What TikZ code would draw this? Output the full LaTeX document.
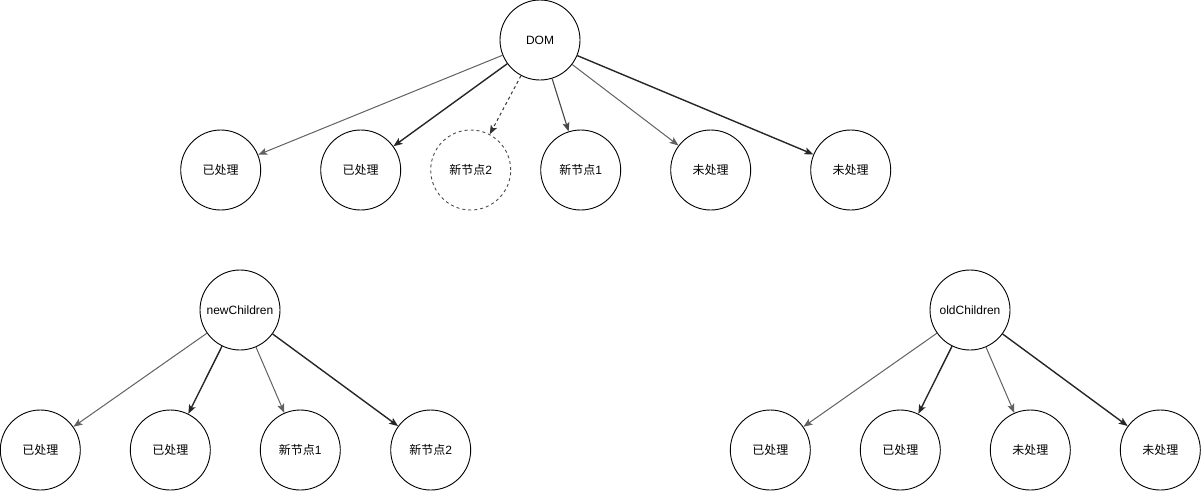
\documentclass[tikz,border=0pt]{standalone}
\usepackage{fontspec}
\setmainfont{Liberation Sans}
\newfontfamily\cjk{Noto Sans CJK SC}
\usetikzlibrary{arrows.meta}
\begin{document}
\begin{tikzpicture}[x=1pt,y=-1pt,
  every node/.style={font=\fontsize{12}{14}\selectfont},
  circ/.style={draw=black,line width=0.9pt,circle,minimum size=80pt,inner sep=0pt},
  dcirc/.style={circ,draw=black!70,dashed,dash pattern=on 3pt off 3pt},
  tip/.style={-{Stealth[length=9pt,width=7pt,inset=2pt]}},
  thinedge/.style={tip,draw=black!62,line width=1pt},
  darkedge/.style={tip,draw=black!85,line width=1.4pt},
  midedge/.style={tip,draw=black!72,line width=1.1pt},
  dashedge/.style={tip,draw=black!80,line width=1pt,dash pattern=on 3pt off 3pt}]
\useasboundingbox (0,0) rectangle (1201,491);
% top tree
\node[circ] (dom) at (540,40) {DOM};
\node[circ] (a1) at (220.7,170) {\cjk 已处理};
\node[circ] (a2) at (360.7,170) {\cjk 已处理};
\node[dcirc] (a3) at (470.7,170) {{\cjk 新节点}2};
\node[circ] (a4) at (580.7,170) {{\cjk 新节点}1};
\node[circ] (a5) at (710.7,170) {\cjk 未处理};
\node[circ] (a6) at (850.7,170) {\cjk 未处理};
\draw[thinedge] (dom) -- (a1);
\draw[darkedge] (dom) -- (a2);
\draw[dashedge] (dom) -- (a3);
\draw[midedge] (dom) -- (a4);
\draw[thinedge] (dom) -- (a5);
\draw[darkedge] (dom) -- (a6);
% newChildren
\node[circ] (nc) at (240,310) {newChildren};
\node[circ] (n1) at (40.3,450) {\cjk 已处理};
\node[circ] (n2) at (170.3,450) {\cjk 已处理};
\node[circ] (n3) at (300.3,450) {{\cjk 新节点}1};
\node[circ] (n4) at (430.7,450) {{\cjk 新节点}2};
\draw[thinedge] (nc) -- (n1);
\draw[darkedge] (nc) -- (n2);
\draw[thinedge] (nc) -- (n3);
\draw[darkedge] (nc) -- (n4);
% oldChildren
\node[circ] (oc) at (970,310) {oldChildren};
\node[circ] (o1) at (770.3,450) {\cjk 已处理};
\node[circ] (o2) at (900.3,450) {\cjk 已处理};
\node[circ] (o3) at (1030.3,450) {\cjk 未处理};
\node[circ] (o4) at (1160.3,450) {\cjk 未处理};
\draw[thinedge] (oc) -- (o1);
\draw[darkedge] (oc) -- (o2);
\draw[thinedge] (oc) -- (o3);
\draw[darkedge] (oc) -- (o4);
\end{tikzpicture}
\end{document}
